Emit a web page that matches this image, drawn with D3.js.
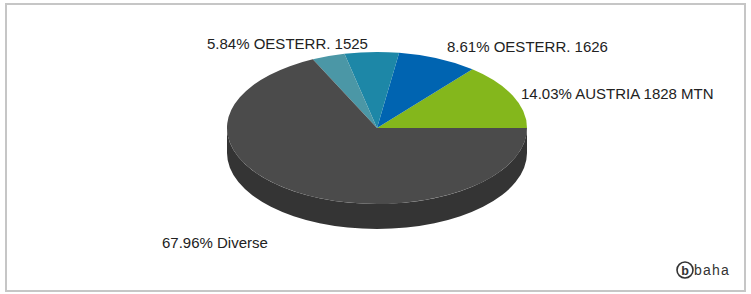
<!DOCTYPE html>
<html><head><meta charset="utf-8">
<script src="https://cdn.jsdelivr.net/npm/d3@7"></script>
<style>html,body{margin:0;padding:0;background:#fff;}svg{display:block;}</style>
</head><body>
<svg id="c" width="751" height="294"></svg>
<script>
const categories = ["AUSTRIA 1828 MTN", "OESTERR. 1626", "OESTERR. 1525", "Sonstige", "Diverse"];
const values = [14.03, 8.61, 5.84, 3.56, 67.96];
const showLabel = [true, true, true, false, true];
const colors = ["#84b71c", "#0064b1", "#1d87a7", "#4b97a6", "#4b4b4b"];
const labelPos = [[521, 98.5], [447, 52], [207, 49], null, [162, 248]];

const svg = d3.select("#c");
svg.append("rect").attr("x", 6).attr("y", 4).attr("width", 739).attr("height", 287)
  .attr("fill", "#fff").attr("stroke", "#c6c6c6").attr("stroke-width", 2);

const cx = 377, cy = 128, rx = 150, ry = 76, depth = 25;
const g = svg.append("g");

// side wall
const sp = `M${cx+rx},${cy} L${cx+rx},${cy+depth} A${rx},${ry} 0 0 1 ${cx-rx},${cy+depth} L${cx-rx},${cy} A${rx},${ry} 0 0 0 ${cx+rx},${cy} Z`;
g.append("path").attr("d", sp).attr("fill", "#343434");

const pie = d3.pie().sort(null).startAngle(Math.PI / 2).endAngle(Math.PI / 2 - 2 * Math.PI);
const arcs = pie(values);
const arc = d3.arc().innerRadius(0).outerRadius(rx);
const topFace = g.append("g").attr("transform", `translate(${cx},${cy}) scale(1,${ry/rx})`);
topFace.selectAll("path").data(arcs).join("path")
  .attr("d", arc).attr("fill", (d, i) => colors[i]);

svg.append("g").selectAll("text").data(arcs.filter((d, i) => showLabel[i])).join("text")
  .attr("x", d => labelPos[d.index][0]).attr("y", d => labelPos[d.index][1])
  .attr("font-family", "Liberation Sans, Arial, sans-serif").attr("font-size", 15)
  .attr("fill", "#222")
  .text(d => values[d.index].toFixed(2) + "% " + categories[d.index]);

// logo
const logo = svg.append("g");
logo.append("circle").attr("cx", 685).attr("cy", 270).attr("r", 8).attr("fill", "none").attr("stroke", "#333").attr("stroke-width", 1.6);
logo.append("text").attr("x", 685).attr("y", 274.5).attr("text-anchor", "middle")
  .attr("font-family", "Liberation Sans, Arial, sans-serif").attr("font-size", 12.5).attr("font-weight", "bold").attr("fill", "#333").text("b");
logo.append("text").attr("x", 694).attr("y", 274.5)
  .attr("font-family", "Liberation Sans, Arial, sans-serif").attr("font-size", 14).attr("letter-spacing", 1.2).attr("fill", "#333").text("baha");
</script>
</body></html>
